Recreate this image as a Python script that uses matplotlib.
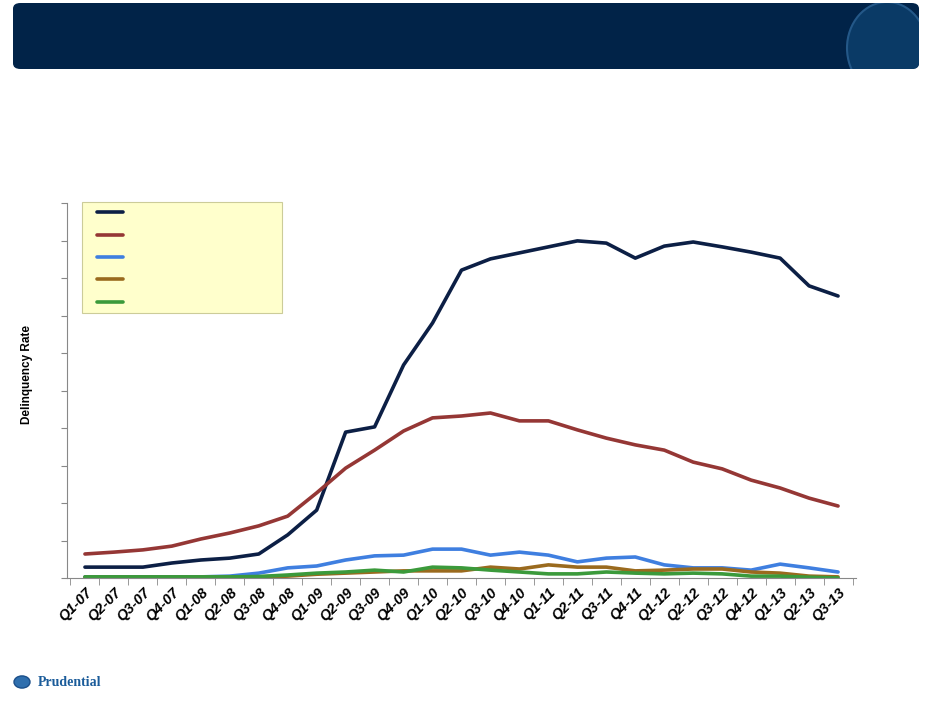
import matplotlib.pyplot as plt
import numpy as np
from matplotlib.patches import FancyBboxPatch, Ellipse, Rectangle, Circle

quarters = ['Q1-07', 'Q2-07', 'Q3-07', 'Q4-07', 'Q1-08', 'Q2-08', 'Q3-08', 'Q4-08',
            'Q1-09', 'Q2-09', 'Q3-09', 'Q4-09', 'Q1-10', 'Q2-10', 'Q3-10', 'Q4-10',
            'Q1-11', 'Q2-11', 'Q3-11', 'Q4-11', 'Q1-12', 'Q2-12', 'Q3-12', 'Q4-12',
            'Q1-13', 'Q2-13', 'Q3-13']

navy = [0.29, 0.29, 0.29, 0.40, 0.48, 0.53, 0.64, 1.15, 1.81, 3.89, 4.03, 5.68, 6.80, 8.21,
        8.51, 8.67, 8.83, 8.99, 8.93, 8.53, 8.85, 8.96, 8.83, 8.69, 8.53, 7.79, 7.52]
red = [0.64, 0.69, 0.75, 0.85, 1.04, 1.20, 1.39, 1.65, 2.27, 2.93, 3.41, 3.92, 4.27, 4.32,
       4.40, 4.19, 4.19, 3.95, 3.73, 3.55, 3.41, 3.09, 2.91, 2.61, 2.40, 2.13, 1.92]
blue = [0.03, 0.03, 0.03, 0.03, 0.03, 0.05, 0.13, 0.27, 0.32, 0.48, 0.59, 0.61, 0.77, 0.77,
        0.61, 0.69, 0.61, 0.43, 0.53, 0.56, 0.35, 0.27, 0.27, 0.21, 0.37, 0.27, 0.16]
gold = [0.02, 0.02, 0.02, 0.02, 0.02, 0.02, 0.03, 0.05, 0.10, 0.13, 0.16, 0.19, 0.19, 0.19,
        0.29, 0.24, 0.35, 0.29, 0.29, 0.19, 0.21, 0.24, 0.24, 0.16, 0.13, 0.05, 0.03]
green = [0.03, 0.03, 0.03, 0.03, 0.03, 0.03, 0.04, 0.08, 0.13, 0.16, 0.21, 0.16, 0.29, 0.27,
         0.21, 0.16, 0.11, 0.11, 0.16, 0.13, 0.11, 0.13, 0.11, 0.05, 0.05, 0.02, 0.00]

series = [(navy, '#0c1f45'), (red, '#953735'), (blue, '#3f7fe0'),
          (gold, '#9a6a1e'), (green, '#3b9a3b')]

fig = plt.figure(figsize=(9.32, 7.07), dpi=100)

# header banner with faint logo on the right
banner = FancyBboxPatch((13 / 932, 1 - 69 / 707), 906 / 932, 66 / 707,
                        boxstyle='round,pad=0,rounding_size=0.008',
                        transform=fig.transFigure, facecolor='#012348', edgecolor='none')
fig.patches.append(banner)
logo = Ellipse((887 / 932, 1 - 48 / 707), 80 / 932, 92 / 707, transform=fig.transFigure,
               facecolor='#0a3a66', edgecolor='#245888', lw=1.5)
fig.patches.append(logo)
logo.set_clip_path(banner)

ax = fig.add_axes([67 / 932, 129 / 707, 789 / 932, 375 / 707])
x = np.arange(len(quarters))
for vals, col in series:
    ax.plot(x, vals, color=col, lw=2.6, solid_capstyle='round', solid_joinstyle='round')

ax.set_xlim(-0.62, 26.62)
ax.set_ylim(0, 10)
ax.set_yticks(np.arange(0, 11, 1))
ax.set_yticklabels([])
ax.set_xticks(x)
ax.set_xticklabels(quarters, rotation=45, ha='right', rotation_mode='anchor',
                   fontsize=10.5, fontweight='bold', style='italic', family='Liberation Sans')
ax.tick_params(axis='x', length=0, pad=5)
ax.set_xticks(np.arange(-0.5, len(quarters), 1), minor=True)
ax.tick_params(axis='x', which='minor', length=5, color='#888888')
ax.tick_params(axis='y', length=4, color='#888888')
for s in ['top', 'right']:
    ax.spines[s].set_visible(False)
for s in ['left', 'bottom']:
    ax.spines[s].set_color('#888888')

fig.text(27 / 932, 1 - 375 / 707, 'Delinquency Rate', rotation=90, ha='center', va='center',
         fontsize=8.5, fontweight='bold', family='Liberation Sans')

# legend box (labels are blank)
ax.add_patch(Rectangle((82 / 932, 1 - 313 / 707), 200 / 932, 111 / 707,
                       transform=fig.transFigure, facecolor='#ffffcc',
                       edgecolor='#cccc99', lw=0.8, zorder=5, clip_on=False))
for i, (vals, col) in enumerate(series):
    yy = 1 - (212 + 22.5 * i) / 707
    ax.add_line(plt.Line2D([97 / 932, 123 / 932], [yy, yy], transform=fig.transFigure,
                           color=col, lw=2.6, solid_capstyle='round', zorder=6,
                           clip_on=False))

# footer logo
fig.patches.append(Circle((22 / 932, 1 - 682 / 707), 8 / 932, transform=fig.transFigure,
                          facecolor='#2f6fae', edgecolor='#1b4f8a'))
fig.text(38 / 932, 1 - 683 / 707, 'Prudential', ha='left', va='center', fontsize=10,
         fontweight='bold', color='#1b5c9a', family='Liberation Serif')

fig.savefig('out.png', dpi=100)
